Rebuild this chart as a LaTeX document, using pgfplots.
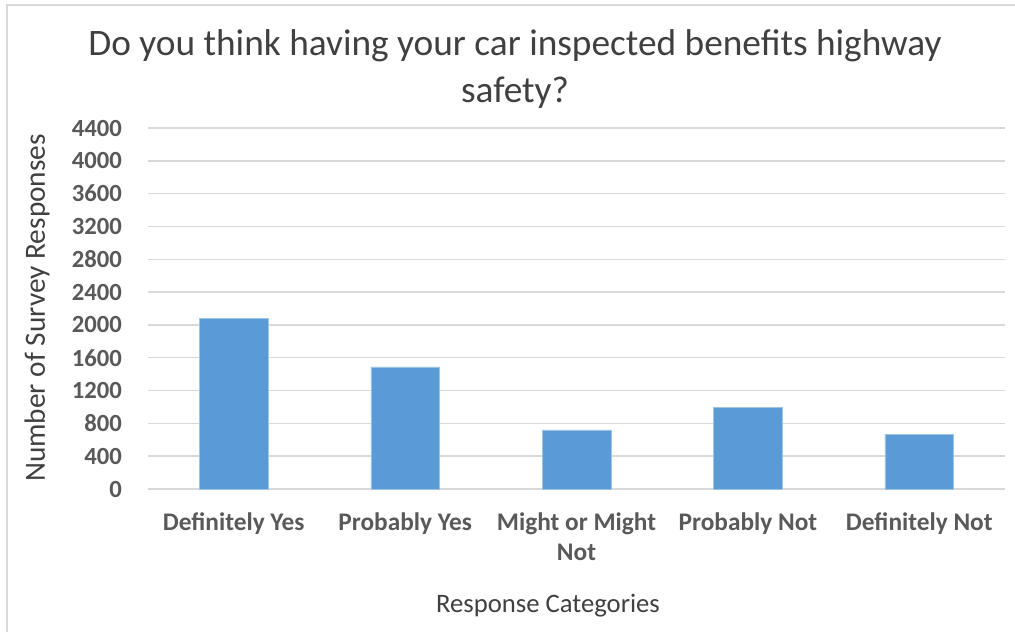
\documentclass[border=0pt]{standalone}
\usepackage{fontspec}
\setmainfont{Carlito}
\usepackage{pgfplots}
\pgfplotsset{compat=1.18}
\definecolor{barblue}{HTML}{5B9BD5}
\definecolor{ticktext}{HTML}{595959}
\definecolor{titletext}{HTML}{404040}
\definecolor{gridc}{HTML}{D9D9D9}
\begin{document}
\begin{tikzpicture}
\path[use as bounding box] (0pt,0pt) rectangle (761.25pt,474pt);
\draw[gridc, line width=1.5pt] (5.25pt,0pt) -- (5.25pt,470.25pt) -- (761.25pt,470.25pt);
\begin{axis}[
  at={(111pt,107.25pt)}, anchor=south west,
  scale only axis,
  width=642.75pt, height=270.75pt,
  ymin=0, ymax=4400,
  ytick={0,400,...,4400},
  xmin=-0.5, xmax=4.5,
  xtick=data,
  xticklabels={Definitely Yes, Probably Yes, {Might or Might\\Not}, Probably Not, Definitely Not},
  ybar, bar width=51.5pt,
  axis line style={draw=none},
  axis x line*=bottom,
  x axis line style={draw=gridc, line width=1.1pt},
  ymajorgrids, grid style={gridc, line width=1.1pt},
  major tick length=0pt,
  tick style={draw=none},
  /pgf/number format/assume math mode=true,
  /pgf/number format/1000 sep={},
  yticklabel style={font=\fontsize{18.5}{20}\selectfont\bfseries, text=ticktext, xshift=-16pt},
  xticklabel style={font=\fontsize{19}{22.5}\selectfont\bfseries, text=ticktext, align=center, yshift=-14pt, anchor=north},
  clip=false,
]
\addplot[fill=barblue, draw=barblue!60!white, line width=0.4pt] coordinates {(0,2075) (1,1488) (2,720) (3,998) (4,668)};
\end{axis}
\node[font=\fontsize{28}{32}\selectfont, text=titletext] at (386.25pt,439.5pt) {Do you think having your car inspected benefits highway};
\node[font=\fontsize{28}{32}\selectfont, text=titletext] at (386.25pt,404.25pt) {safety?};
\node[font=\fontsize{22}{24}\selectfont, text=titletext, rotate=90] at (27.75pt,243pt) {Number of Survey Responses};
\node[font=\fontsize{20}{24}\selectfont, text=titletext] at (411pt,19.5pt) {Response Categories};
\end{tikzpicture}
\end{document}
